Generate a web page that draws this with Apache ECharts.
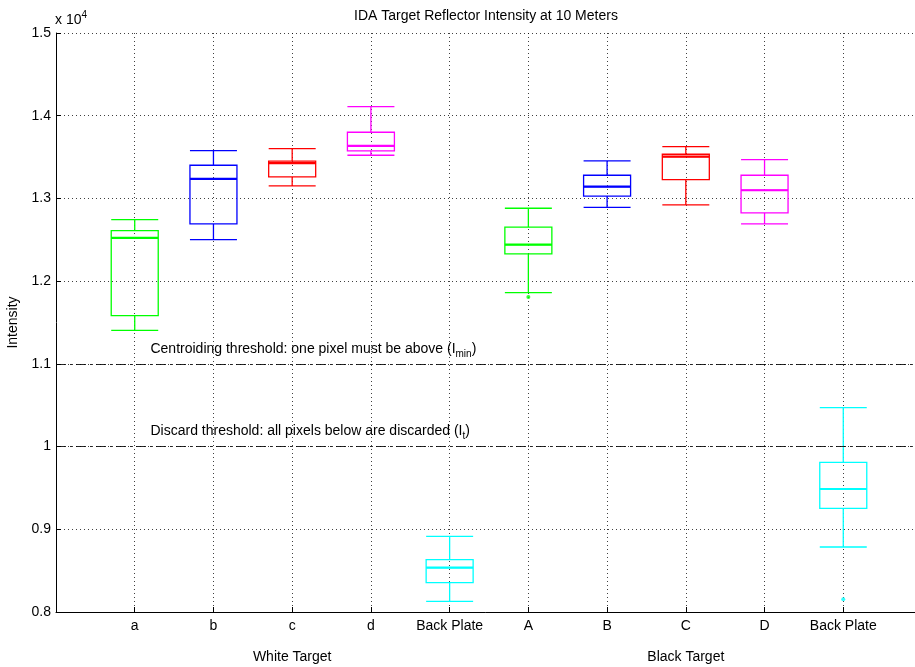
<!DOCTYPE html>
<html>
<head>
<meta charset="utf-8">
<script src="https://cdn.jsdelivr.net/npm/echarts@6/dist/echarts.min.js"></script>
<style>
html,body{margin:0;padding:0;background:#fff;}
#chart{width:915px;height:667px;}
</style>
</head>
<body>
<div id="chart"></div>
<script>
// Category slots (index 0 and 11 are empty padding slots)
const categories = ['', 'a', 'b', 'c', 'd', 'Back Plate', 'A', 'B', 'C', 'D', 'Back Plate', ''];
// Box statistics (x 10^4), one per category 1..10
const boxCats   = [1, 2, 3, 4, 5, 6, 7, 8, 9, 10];
const whiskLow  = [1.1406, 1.2502, 1.3151, 1.3522, 0.8129, 1.1861, 1.2893, 1.2921, 1.2692, 0.8786];
const q1        = [1.1583, 1.2692, 1.3260, 1.3574, 0.8354, 1.2329, 1.3027, 1.3227, 1.2825, 0.9254];
const medians   = [1.2522, 1.3236, 1.3426, 1.3635, 0.8536, 1.2441, 1.3143, 1.3505, 1.3099, 0.9487];
const q3        = [1.2610, 1.3401, 1.3450, 1.3800, 0.8632, 1.2652, 1.3280, 1.3534, 1.3280, 0.9810];
const whiskHigh = [1.2744, 1.3578, 1.3602, 1.4110, 0.8915, 1.2881, 1.3453, 1.3626, 1.3469, 1.0470];
const boxColors = ['#00ff00', '#0000ff', '#ff0000', '#ff00ff', '#00ffff', '#00ff00', '#0000ff', '#ff0000', '#ff00ff', '#00ffff'];
// Outliers
const outlierCats   = [6, 10];
const outlierValues = [1.1809, 0.8154];
const outlierColors = ['#00ff00', '#00ffff'];
// Thresholds
const thresholds = [1.1, 1.0];
const thresholdLabels = [
  'Centroiding threshold: one pixel must be above (I{sub|min})',
  'Discard threshold: all pixels below are discarded (I{sub|t})'
];
const groupLabels = ['White Target', 'Black Target'];
const groupCats = [3, 8];
const titleText = 'IDA Target Reflector Intensity at 10 Meters';
const yMin = 0.8, yMax = 1.5, yStep = 0.1;

const FONT = 'Liberation Sans, Arial, sans-serif';
const FS = 14;
const chart = echarts.init(document.getElementById('chart'), null, {renderer: 'canvas'});
const BOXW = 47;

const boxData = boxCats.map((c, i) => ({
  value: [c, whiskLow[i], q1[i], medians[i], q3[i], whiskHigh[i]],
  itemStyle: {borderColor: boxColors[i], color: 'rgba(0,0,0,0)', borderWidth: 1.3}
}));

const medianData = boxCats.map((c, i) => [c, medians[i], i]);

const option = {
  animation: false,
  backgroundColor: '#fff',
  grid: {left: 56, right: -7, top: 33, bottom: 55, containLabel: false, outerBoundsMode: 'none'},
  xAxis: {
    type: 'category',
    data: categories,
    boundaryGap: false,
    axisLine: {show: true, lineStyle: {color: '#000', width: 1}},
    axisTick: {show: true, inside: true, length: 5, lineStyle: {color: '#000'},
      interval: (idx) => idx > 0 && idx < categories.length - 1},
    axisLabel: {color: '#000', fontFamily: FONT, fontSize: FS, margin: 7,
      interval: 0, formatter: (v, idx) => categories[idx]},
    splitLine: {show: true, interval: (idx) => idx > 0,
      lineStyle: {color: '#000', type: [1, 3], width: 1, opacity: 0.75}}
  },
  yAxis: {
    type: 'value',
    min: yMin, max: yMax, interval: yStep,
    name: 'Intensity', nameLocation: 'middle', nameGap: 33, nameRotate: 90,
    nameTextStyle: {color: '#000', fontFamily: FONT, fontSize: FS},
    axisLine: {show: true, lineStyle: {color: '#000', width: 1}},
    axisTick: {show: true, inside: true, length: 5, lineStyle: {color: '#000'}},
    axisLabel: {color: '#000', fontFamily: FONT, fontSize: FS, margin: 5,
      formatter: (v) => String(parseFloat(v.toFixed(1)))},
    splitLine: {show: true, lineStyle: {color: '#000', type: [1, 3], width: 1, opacity: 0.75}}
  },
  series: [
    {
      type: 'boxplot',
      dimensions: ['cat', 'min', 'Q1', 'median', 'Q3', 'max'],
      encode: {x: 'cat', y: ['min', 'Q1', 'median', 'Q3', 'max']},
      data: boxData,
      boxWidth: [BOXW, BOXW],
      silent: true,
      emphasis: {disabled: true},
      markLine: {
        silent: true,
        symbol: 'none',
        label: {show: false},
        lineStyle: {color: '#000', type: [10, 4, 2, 4], width: 1, opacity: 0.85},
        data: thresholds.map(t => ({yAxis: t}))
      }
    },
    {
      type: 'custom',
      data: medianData,
      silent: true,
      renderItem: (params, api) => {
        const p = api.coord([api.value(0), api.value(1)]);
        const col = boxColors[api.value(2)];
        return {type: 'line',
          shape: {x1: p[0] - BOXW / 2, y1: p[1], x2: p[0] + BOXW / 2, y2: p[1]},
          style: {stroke: col, lineWidth: 2.2}};
      }
    },
    {
      type: 'scatter',
      symbol: 'circle',
      symbolSize: 4,
      silent: true,
      data: outlierCats.map((c, i) => ({value: [c, outlierValues[i]], itemStyle: {color: outlierColors[i]}}))
    }
  ]
};
chart.setOption(option);

function px(x, y) { return chart.convertToPixel({xAxisIndex: 0, yAxisIndex: 0}, [x, y]); }
const p0 = px(0, yMax), p1 = px(1, yMax), p2 = px(2, yMax), pEnd = px(categories.length - 1, yMax);
const step = p2[0] - p1[0];
const graphics = [];
graphics.push({type: 'text', x: (p0[0] + pEnd[0]) / 2 - 3, y: 16,
  style: {text: titleText, fill: '#000', font: FS + 'px ' + FONT, align: 'center', verticalAlign: 'middle'}});
graphics.push({type: 'text', x: p0[0] - 1, y: 20,
  style: {text: 'x 10{sup|4}', fill: '#000', font: FS + 'px ' + FONT, align: 'left', verticalAlign: 'middle',
    rich: {sup: {fontSize: 10, fontFamily: FONT, fill: '#000', padding: [0, 0, 10, 0]}}}});
thresholds.forEach((t, i) => {
  const p = px(1, t);
  graphics.push({type: 'text', x: p[0] + 0.2 * step, y: p[1] - 15,
    style: {text: thresholdLabels[i], fill: '#000', font: FS + 'px ' + FONT, align: 'left', verticalAlign: 'middle',
      rich: {sub: {fontSize: 10, fontFamily: FONT, fill: '#000', padding: [10, 0, 0, 0]}}}});
});
groupCats.forEach((c, i) => {
  const p = px(c, yMin);
  graphics.push({type: 'text', x: p[0], y: p[1] + 45,
    style: {text: groupLabels[i], fill: '#000', font: FS + 'px ' + FONT, align: 'center', verticalAlign: 'middle'}});
});
chart.setOption({graphic: graphics});
</script>
</body>
</html>
